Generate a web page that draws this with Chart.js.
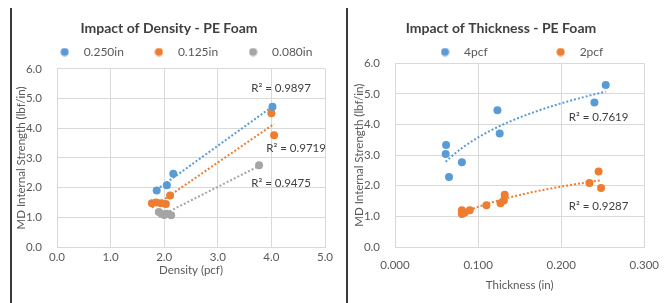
<!DOCTYPE html>
<html><head><meta charset="utf-8">
<script src="https://cdn.jsdelivr.net/npm/chart.js@4.4.1/dist/chart.umd.min.js"></script>
<style>
html,body{margin:0;padding:0;background:#fff;width:670px;height:303px;overflow:hidden;}
.rule{position:absolute;top:8px;width:2px;height:295px;background:#3a3a3a;}
.panel{position:absolute;top:0;height:303px;}
canvas{display:block;}
</style></head><body>
<div class="rule" style="left:10px"></div>
<div class="rule" style="left:346px"></div>
<div class="panel" style="left:13px;width:332px"><canvas id="c1" width="332" height="303"></canvas></div>
<div class="panel" style="left:349px;width:321px"><canvas id="c2" width="321" height="303"></canvas></div>
<script>
// ---------- DATA ----------
const densityTitle = 'Impact of Density - PE Foam';
const densitySeries = ['0.250in', '0.125in', '0.080in'];
const d250X = [1.86, 2.05, 2.17, 4.02];
const d250Y = [1.90, 2.08, 2.47, 4.72];
const d125X = [1.77, 1.85, 1.94, 2.03, 2.11, 4.00, 4.05];
const d125Y = [1.47, 1.50, 1.47, 1.45, 1.73, 4.50, 3.76];
const d080X = [1.90, 1.95, 2.00, 2.05, 2.13, 3.77];
const d080Y = [1.18, 1.12, 1.08, 1.12, 1.07, 2.75];
const densityR2 = ['R² = 0.9897', 'R² = 0.9719', 'R² = 0.9475'];
const densityXTicks = [0, 1, 2, 3, 4, 5];

const thickTitle = 'Impact of Thickness - PE Foam';
const thickSeries = ['4pcf', '2pcf'];
const t4X = [0.061, 0.0615, 0.065, 0.0805, 0.1233, 0.126, 0.240, 0.2536];
const t4Y = [3.04, 3.33, 2.29, 2.77, 4.47, 3.71, 4.72, 5.29];
const t2X = [0.0805, 0.0805, 0.084, 0.090, 0.110, 0.127, 0.131, 0.132, 0.234, 0.245, 0.248];
const t2Y = [1.20, 1.08, 1.13, 1.20, 1.36, 1.43, 1.52, 1.71, 2.09, 2.47, 1.93];
const thickR2 = ['R² = 0.7619', 'R² = 0.9287'];
const thickXTicks = [0, 0.1, 0.2, 0.3];

const yTitle = 'MD Internal Strength (lbf/in)';

// ---------- HELPERS ----------
const BLUE = '#5B9BD5', ORANGE = '#ED7D31', GRAY = '#A5A5A5';
const FONT = 'Lato, "Open Sans", sans-serif';
const pts = (xs, ys) => xs.map((x, i) => ({x, y: ys[i]}));

function fit(xs, ys, tf) {
  const u = xs.map(tf), n = u.length;
  const mu = u.reduce((a, b) => a + b, 0) / n, my = ys.reduce((a, b) => a + b, 0) / n;
  let sxy = 0, sxx = 0;
  u.forEach((v, i) => { sxy += (v - mu) * (ys[i] - my); sxx += (v - mu) * (v - mu); });
  const b = sxy / sxx, a = my - b * mu;
  return x => a + b * tf(x);
}
function linTrend(xs, ys) {
  const f = fit(xs, ys, x => x);
  const lo = Math.min(...xs), hi = Math.max(...xs);
  return [{x: lo, y: f(lo)}, {x: hi, y: f(hi)}];
}
function logTrend(xs, ys) {
  const f = fit(xs, ys, Math.log);
  const lo = Math.min(...xs), hi = Math.max(...xs), out = [];
  for (let i = 0; i <= 40; i++) { const x = lo + (hi - lo) * i / 40; out.push({x, y: f(x)}); }
  return out;
}
function dotImg(color) {
  const c = document.createElement('canvas'); c.width = 9; c.height = 9;
  const g = c.getContext('2d'); g.fillStyle = color; g.beginPath(); g.arc(4.5, 4.5, 4, 0, Math.PI * 2); g.fill();
  return c;
}
function series(label, xs, ys, color) {
  return {label, data: pts(xs, ys), backgroundColor: color, borderColor: color,
    pointRadius: 4, pointHoverRadius: 4, pointBorderWidth: 0, showLine: false, order: 0};
}
function trend(data, color) {
  return {label: 'trend', isTrend: true, data, borderColor: color, backgroundColor: color,
    showLine: true, pointRadius: 0, borderWidth: 2, borderDash: [2, 2], borderCapStyle: 'butt',
    tension: 0, order: 1};
}

const legendPlace = {
  id: 'legendPlace',
  afterLayout(chart, args, o) {
    const lg = chart.legend; if (!lg) return;
    const ca = chart.chartArea;
    const dx = (ca.left + ca.right) / 2 - (lg.left + lg.right) / 2 + (o.shift || 0);
    lg.left += dx - 60; lg.right += dx + 60;
    const pad = lg.options.labels.padding;
    lg.top = o.centerY - 6 - pad;
    lg.bottom = o.centerY + 12;
  }
};
const r2Labels = {
  id: 'r2Labels',
  afterDatasetsDraw(chart, args, o) {
    const {ctx, scales} = chart;
    ctx.save();
    ctx.font = '11.5px ' + FONT; ctx.fillStyle = '#404040';
    ctx.textAlign = 'center'; ctx.textBaseline = 'middle';
    o.items.forEach(it => ctx.fillText(it.text, scales.x.getPixelForValue(it.x), scales.y.getPixelForValue(it.y)));
    ctx.restore();
  }
};

function makeChart(id, cfg) {
  return new Chart(document.getElementById(id), {
    type: 'scatter',
    data: {datasets: cfg.datasets},
    plugins: [legendPlace, r2Labels],
    options: {
      responsive: false, animation: false, devicePixelRatio: 1,
      layout: {padding: {top: 0, left: 0, right: cfg.padRight, bottom: 0}},
      plugins: {
        tooltip: {enabled: false},
        title: {display: true, text: cfg.title, color: '#404040',
          font: {family: FONT, size: 14, weight: 'bold'}, padding: {top: 19.6, bottom: 0}},
        legend: {position: 'top', maxHeight: cfg.legendMaxH,
          labels: {usePointStyle: true, pointStyleWidth: 26, padding: cfg.legendPad,
            color: '#595959', font: {family: FONT, size: 12},
            filter: (item, data) => !data.datasets[item.datasetIndex].isTrend,
            generateLabels(chart) {
              const items = Chart.defaults.plugins.legend.labels.generateLabels(chart);
              items.forEach(it => { it.pointStyle = dotImg(chart.data.datasets[it.datasetIndex].backgroundColor); });
              return items;
            }}},
        legendPlace: {centerY: 52, shift: cfg.legendShift},
        r2Labels: {items: cfg.r2}
      },
      scales: {
        x: {type: 'linear', min: cfg.xTicks[0], max: cfg.xTicks[cfg.xTicks.length - 1],
          afterBuildTicks: s => { s.ticks = cfg.xTicks.map(v => ({value: v})); },
          ticks: {padding: cfg.xTickPad, color: '#595959', font: {family: FONT, size: 11.5},
            callback: v => v.toFixed(cfg.xDec), maxRotation: 0, autoSkip: false},
          grid: {color: '#d9d9d9', drawTicks: false}, border: {color: '#d9d9d9'},
          title: {display: true, text: cfg.xTitle, color: '#595959', font: {family: FONT, size: 11.5},
            padding: {top: 0, bottom: cfg.xTitlePad}},
          afterFit: s => { s.height = 56; }},
        y: {type: 'linear', min: 0, max: 6,
          ticks: {stepSize: 1, padding: cfg.yTickPad, color: '#595959', font: {family: FONT, size: 11.5},
            callback: v => v.toFixed(1)},
          grid: {color: '#d9d9d9', drawTicks: false}, border: {color: '#d9d9d9'},
          title: {display: true, text: yTitle, color: '#595959', font: {family: FONT, size: 11.5},
            padding: {top: cfg.yTitlePad, bottom: 0}},
          afterFit: s => { s.width = cfg.yWidth; }}
      }
    }
  });
}

makeChart('c1', {
  title: densityTitle, xTitle: 'Density (pcf)', xTicks: densityXTicks, xDec: 1,
  padRight: 20, legendMaxH: 32.4, legendPad: 22, legendShift: -9, xTickPad: 3, xTitlePad: 26, yTickPad: 15, yTitlePad: 1, yWidth: 44,
  datasets: [
    series(densitySeries[0], d250X, d250Y, BLUE),
    series(densitySeries[1], d125X, d125Y, ORANGE),
    series(densitySeries[2], d080X, d080Y, GRAY),
    trend(linTrend(d250X, d250Y), BLUE),
    trend(linTrend(d125X, d125Y), ORANGE),
    trend(linTrend(d080X, d080Y), GRAY)
  ],
  r2: [
    {text: densityR2[0], x: 4.18, y: 5.33},
    {text: densityR2[1], x: 4.46, y: 3.32},
    {text: densityR2[2], x: 4.18, y: 2.15}
  ]
});

makeChart('c2', {
  title: thickTitle, xTitle: 'Thickness (in)', xTicks: thickXTicks, xDec: 3,
  padRight: 17, legendMaxH: 26.9, legendPad: 60, legendShift: -2, xTickPad: 11, xTitlePad: 11, yTickPad: 15, yTitlePad: 3, yWidth: 46,
  datasets: [
    series(thickSeries[0], t4X, t4Y, BLUE),
    series(thickSeries[1], t2X, t2Y, ORANGE),
    trend(logTrend(t4X, t4Y), BLUE),
    trend(logTrend(t2X, t2Y), ORANGE)
  ],
  r2: [
    {text: thickR2[0], x: 0.245, y: 4.23},
    {text: thickR2[1], x: 0.245, y: 1.33}
  ]
});
</script>
</body></html>
